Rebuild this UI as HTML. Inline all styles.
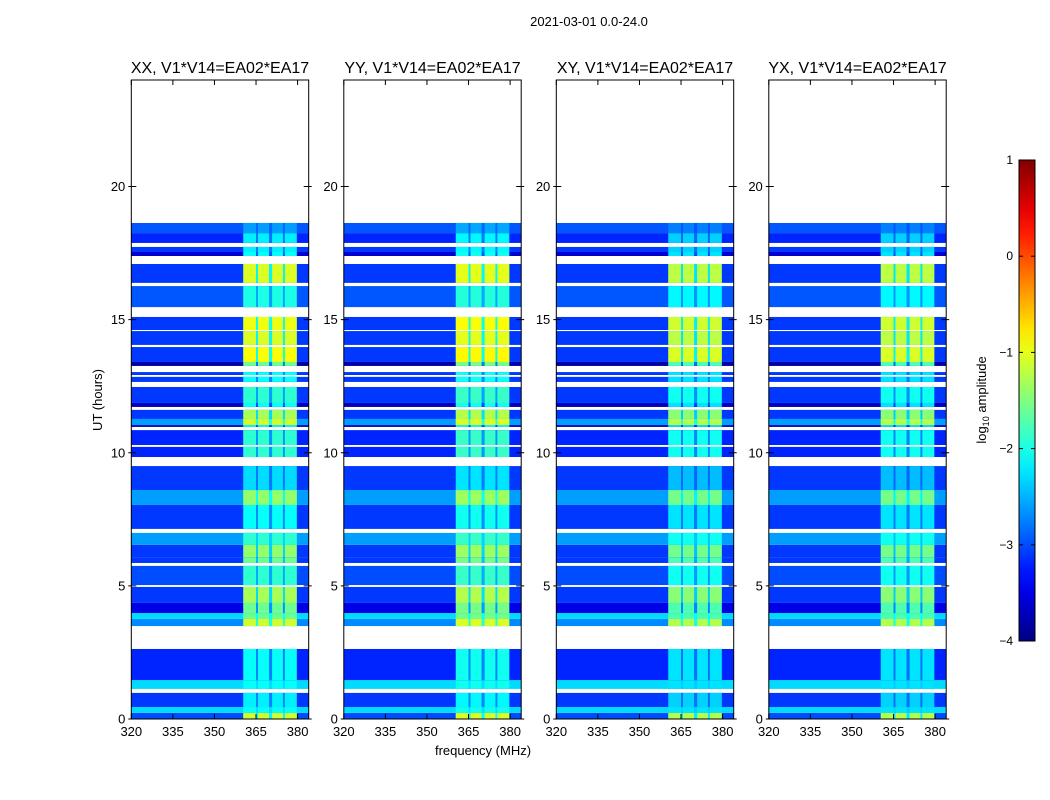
<!DOCTYPE html>
<html><head><meta charset="utf-8">
<style>
html,body{margin:0;padding:0;background:#fff;}
svg{display:block;font-family:"Liberation Sans","DejaVu Sans",sans-serif;}
</style></head>
<body>
<svg id="chart" width="1050" height="800" viewBox="0 0 1050 800" xmlns="http://www.w3.org/2000/svg">
<rect width="1050" height="800" fill="#fff"/>
<text x="589" y="26" font-size="13" text-anchor="middle">2021-03-01 0.0-24.0</text>
<text x="0" y="0" font-size="13" text-anchor="middle" transform="translate(102,400) rotate(-90)">UT (hours)</text>
<text x="483" y="755" font-size="13" text-anchor="middle">frequency (MHz)</text>
<g id="panels"></g>
<g id="cbar"></g>
</svg>
<script>
// ---- data ----
const panelTitles = ["XX, V1*V14=EA02*EA17","YY, V1*V14=EA02*EA17","XY, V1*V14=EA02*EA17","YX, V1*V14=EA02*EA17"];
const panelBandOffset = [0, 0.05, -0.15, -0.15];
const segStart = [0,0.23,0.45,1.13,1.46,3.49,3.76,3.98,4.36,5.03,5.86,6.08,6.54,7.14,8.04,8.60,9.84,10.29,10.97,11.04,11.27,11.72,11.87,12.66,12.92,13.26,13.41,14.05,14.61,15.47,16.38,17.39,17.54,17.88,18.25];
const segEnd   = [0.23,0.45,0.98,1.46,2.63,3.76,3.98,4.36,4.96,5.75,6.08,6.54,6.99,8.04,8.60,9.50,10.22,10.85,11.04,11.27,11.61,11.87,12.47,12.85,13.03,13.41,13.97,14.57,15.10,16.26,17.09,17.54,17.73,18.25,18.63];
const segBg    = [-3.0,-2.3,-3.1,-2.3,-3.2,-2.7,-2.3,-3.5,-3.1,-3.0,-3.1,-3.1,-2.6,-3.1,-2.6,-3.1,-3.2,-3.2,-3.7,-2.6,-3.1,-3.7,-3.1,-3.1,-3.1,-3.8,-3.1,-3.1,-3.1,-2.95,-3.1,-3.6,-3.1,-3.2,-2.95];
const segBand  = [-1.0,-2.0,-2.1,-2.0,-2.0,-1.0,-1.5,-1.5,-1.2,-1.8,-1.5,-1.3,-1.8,-2.0,-1.3,-2.2,-1.8,-1.8,-2.0,-1.0,-1.2,-2.0,-1.8,-2.0,-2.0,-1.5,-0.8,-0.95,-0.85,-1.9,-0.95,-2.0,-2.1,-2.1,-2.5];
const bandLo = [360.4,365.7,370.8,375.4];
const bandHi = [365.0,369.7,374.7,379.7];
const xTicks = [320,335,350,365,380];
const yTicks = [0,5,10,15,20];
const cbarTicks = [1,0,-1,-2,-3,-4];
// ---- layout ----
const NS="http://www.w3.org/2000/svg";
const pLeft0=131.3, pStep=212.5, pW=177.4, pTop=80, pBot=719;
const fMin=320, fMax=384, hMin=0, hMax=24, vMin=-4, vMax=1;
function jet(v){
  let t=(v-vMin)/(vMax-vMin); t=Math.max(0,Math.min(1,t));
  const c=x=>Math.round(255*Math.max(0,Math.min(1,x)));
  const r=c(Math.min(4*t-1.5,-4*t+4.5)), g=c(Math.min(4*t-0.5,-4*t+3.5)), b=c(Math.min(4*t+0.5,-4*t+2.5));
  return `rgb(${r},${g},${b})`;
}
function mk(tag,attrs,parent){const e=document.createElementNS(NS,tag);for(const k in attrs)e.setAttribute(k,attrs[k]);parent.appendChild(e);return e;}
const panels=document.getElementById('panels');
panelTitles.forEach((title,p)=>{
  const x0=pLeft0+p*pStep;
  const xs=f=>x0+(f-fMin)/(fMax-fMin)*pW;
  const ys=h=>pBot-(h-hMin)/(hMax-hMin)*(pBot-pTop);
  const g=mk('g',{},panels);
  
  
  for(let i=0;i<segStart.length;i++){
    const y1=ys(segEnd[i]), y2=ys(segStart[i]);
    const r=mk('rect',{x:x0,y:y1,width:pW,height:y2-y1,fill:jet(segBg[i])},g);
    
    
    const bandV=segBand[i]+panelBandOffset[p];
    const mid=mk('rect',{x:xs(bandLo[0]),y:y1,width:xs(bandHi[3])-xs(bandLo[0]),height:y2-y1,fill:jet(segBg[i]+0.5*(bandV-segBg[i])-0.15)},g);
    
    
    for(let b=0;b<bandLo.length;b++){
      const br=mk('rect',{x:xs(bandLo[b]),y:y1,width:xs(bandHi[b])-xs(bandLo[b]),height:y2-y1,fill:jet(bandV-0.1)},g);
      
      
    }
  }
  const fr=mk('rect',{x:x0,y:pTop,width:pW,height:pBot-pTop,fill:'none',stroke:'#000','stroke-width':1},g);
  
  
  const t=mk('text',{x:x0+pW/2,y:73,'font-size':16,'text-anchor':'middle'},g);
  t.textContent=title;
  
  
  xTicks.forEach(f=>{
    const x=xs(f);
    mk('line',{x1:x,x2:x,y1:pBot,y2:pBot-5,stroke:'#000'},g);
    mk('line',{x1:x,x2:x,y1:pTop,y2:pTop+5,stroke:'#000'},g);
    const l=mk('text',{x:x,y:736,'font-size':13,'text-anchor':'middle'},g);
    l.textContent=f;
    
    
  });
  yTicks.forEach(h=>{
    const y=ys(h);
    mk('line',{x1:x0-3,x2:x0+5,y1:y,y2:y,stroke:'#000'},g);
    mk('line',{x1:x0+pW-5,x2:x0+pW+3,y1:y,y2:y,stroke:'#000'},g);
    const l=mk('text',{x:x0-6,y:y+4.5,'font-size':13,'text-anchor':'end'},g);
    l.textContent=h;
    
    
  });
});
// colorbar
const cb=document.getElementById('cbar');


const cx=1019,cw=16,cTop=160,cBot=641;
const cy=v=>cBot-(v-vMin)/(vMax-vMin)*(cBot-cTop);
const defs=mk('defs',{},cb);
const grad=mk('linearGradient',{id:'jetg',x1:0,y1:1,x2:0,y2:0},defs);
for(let i=0;i<=20;i++){const v=vMin+(vMax-vMin)*i/20;mk('stop',{offset:i/20,'stop-color':jet(v)},grad);}
mk('rect',{x:cx,y:cTop,width:cw,height:cBot-cTop,fill:'url(#jetg)',stroke:'#000'},cb);
cbarTicks.forEach(v=>{
  const y=cy(v);
  mk('line',{x1:cx,x2:cx+4,y1:y,y2:y,stroke:'#000'},cb);
  mk('line',{x1:cx+cw-4,x2:cx+cw,y1:y,y2:y,stroke:'#000'},cb);
  const l=mk('text',{x:1013,y:y+4,'font-size':12,'text-anchor':'end'},cb);
  l.textContent=v<0?'\u2212'+(-v):String(v);
  
  
});
const cl=mk('text',{'font-size':13,'text-anchor':'middle',transform:'translate(986,400) rotate(-90)'},cb);
cl.innerHTML='log<tspan font-size="9" dy="3">10</tspan><tspan dy="-3"> amplitude</tspan>';


</script>
</body></html>
